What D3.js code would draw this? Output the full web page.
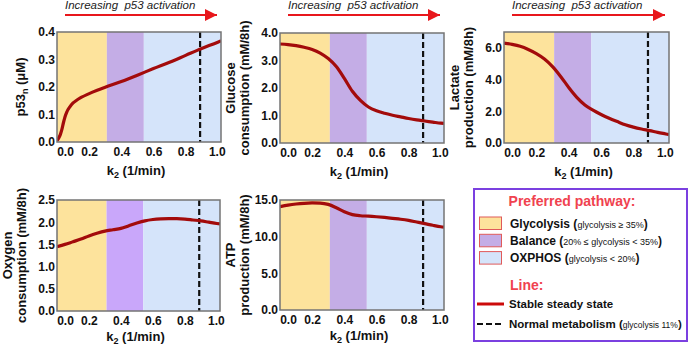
<!DOCTYPE html>
<html>
<head>
<meta charset="utf-8">
<script src="https://cdn.jsdelivr.net/npm/d3@7"></script>
<style>
  body { margin: 0; background: #fff; }
  svg { font-family: "Liberation Sans", Arial, sans-serif; display: block; }
</style>
</head>
<body>
<div id="chart"></div>
<script>
// k2 grid shared by most panels (1/min)
const k2Grid = [0, 0.05, 0.1, 0.15, 0.2, 0.25, 0.3, 0.35, 0.4, 0.45, 0.5, 0.55, 0.6, 0.65, 0.7, 0.75, 0.8, 0.85, 0.9, 0.95, 1.0, 1.02];

// p53 needs a finer grid near zero
const p53K2 = [0, 0.01, 0.02, 0.03, 0.04, 0.05, 0.06, 0.08, 0.1, 0.12, 0.15, 0.2, 0.25, 0.3, 0.4, 0.5, 0.6, 0.7, 0.8, 0.9, 1.0, 1.02];
const p53Values = [0.005, 0.014, 0.026, 0.045, 0.07, 0.092, 0.108, 0.128, 0.142, 0.151, 0.162, 0.176, 0.188, 0.199, 0.22, 0.243, 0.267, 0.29, 0.315, 0.34, 0.363, 0.368];

const glucoseValues = [3.6, 3.58, 3.54, 3.48, 3.4, 3.27, 3.07, 2.78, 2.35, 1.88, 1.55, 1.31, 1.17, 1.08, 1.01, 0.95, 0.89, 0.84, 0.8, 0.76, 0.72, 0.71];
const lactateValues = [6.3, 6.22, 6.1, 5.9, 5.64, 5.3, 4.82, 4.2, 3.5, 2.88, 2.4, 2.07, 1.8, 1.56, 1.35, 1.15, 1.0, 0.88, 0.78, 0.67, 0.57, 0.53];
const oxygenValues = [1.45, 1.5, 1.56, 1.62, 1.69, 1.75, 1.8, 1.83, 1.86, 1.92, 1.98, 2.03, 2.06, 2.075, 2.08, 2.08, 2.07, 2.05, 2.03, 2.0, 1.97, 1.96];
const atpValues = [14.1, 14.3, 14.45, 14.55, 14.6, 14.58, 14.4, 13.95, 13.4, 13.0, 12.85, 12.8, 12.72, 12.62, 12.5, 12.38, 12.22, 12.0, 11.78, 11.55, 11.35, 11.3];

// pathway regions along k2
const regionBreaks = [0, 0.31, 0.54, 1.02];
const normalK2 = 0.89;

const xTicks = [0, 0.2, 0.4, 0.6, 0.8, 1.0];

const panels = [
  { x: 57, y: 32, w: 164, h: 110, k: p53K2, v: p53Values, max: 0.4, ticks: [0, 0.1, 0.2, 0.3, 0.4],
    label: ['p53n'], arrow: true, purple: '#c4ade6' },
  { x: 280, y: 33, w: 164, h: 110, k: k2Grid, v: glucoseValues, max: 4, ticks: [0, 1, 2, 3, 4],
    label: ['Glucose', 'consumption (mM/8h)'], arrow: true, purple: '#c4ade6' },
  { x: 504, y: 32, w: 165, h: 111, k: k2Grid, v: lactateValues, max: 7, ticks: [0, 2, 4, 6],
    label: ['Lactate', 'production (mM/8h)'], arrow: true, purple: '#c4ade6' },
  { x: 57, y: 200, w: 163, h: 111, k: k2Grid, v: oxygenValues, max: 2.5, ticks: [0, 0.5, 1, 1.5, 2, 2.5],
    label: ['Oxygen', 'consumption (mM/8h)'], arrow: false, purple: '#c9a7fa' },
  { x: 280, y: 200, w: 164, h: 110, k: k2Grid, v: atpValues, max: 15, ticks: [0, 5, 10, 15],
    label: ['ATP', 'production (mM/8h)'], arrow: false, purple: '#c4ade6' },
];

const regionColors = ['#fde39c', null, '#d5e4fa'];

const svg = d3.select('#chart').append('svg')
  .attr('width', 690)
  .attr('height', 345);

svg.append('defs').append('marker')
  .attr('id', 'head')
  .attr('viewBox', '0 0 10 10')
  .attr('refX', 10)
  .attr('refY', 5)
  .attr('markerUnits', 'userSpaceOnUse')
  .attr('markerWidth', 13)
  .attr('markerHeight', 12)
  .attr('orient', 'auto')
  .append('path')
  .attr('d', 'M0,0L10,5L0,10Z')
  .attr('fill', '#e8171c');

panels.forEach((p, i) => {
  const g = svg.append('g').attr('transform', `translate(${p.x},${p.y})`);
  const x = d3.scaleLinear().domain([0, 1.02]).range([0, p.w]);
  const y = d3.scaleLinear().domain([0, p.max]).range([p.h, 0]);

  // coloured pathway bands
  const colors = [regionColors[0], p.purple, regionColors[2]];
  g.selectAll('rect.band')
    .data(d3.range(3))
    .join('rect')
    .attr('class', 'band')
    .attr('x', (d) => x(regionBreaks[d]))
    .attr('y', 0)
    .attr('width', (d) => x(regionBreaks[d + 1]) - x(regionBreaks[d]))
    .attr('height', p.h)
    .attr('fill', (d) => colors[d]);

  // normal metabolism marker
  g.append('line')
    .attr('x1', x(normalK2)).attr('x2', x(normalK2))
    .attr('y1', 0).attr('y2', p.h)
    .attr('stroke', '#111')
    .attr('stroke-width', 2.2)
    .attr('stroke-dasharray', '6,3');

  const clipId = `clip${i}`;
  g.append('clipPath').attr('id', clipId)
    .append('rect').attr('width', p.w).attr('height', p.h);

  const line = d3.line()
    .x((d, j) => x(p.k[j]))
    .y((d) => y(d))
    .curve(d3.curveMonotoneX);

  g.append('path')
    .datum(p.v)
    .attr('clip-path', `url(#${clipId})`)
    .attr('fill', 'none')
    .attr('stroke', '#a30b0b')
    .attr('stroke-width', 3.2)
    .attr('d', line);

  g.append('rect')
    .attr('width', p.w).attr('height', p.h)
    .attr('fill', 'none')
    .attr('stroke', '#747474')
    .attr('stroke-width', 1.5);

  // axes (labels only)
  const yAxis = g.append('g')
    .call(d3.axisLeft(y).tickValues(p.ticks).tickSize(0).tickPadding(2)
      .tickFormat(d3.format('.1f')));
  yAxis.select('.domain').remove();
  yAxis.selectAll('text')
    .attr('font-size', 12)
    .attr('font-weight', 'bold')
    .attr('font-family', '"Liberation Sans", Arial, sans-serif')
    .attr('fill', '#111');

  const xAxis = g.append('g')
    .attr('transform', `translate(0,${p.h})`)
    .call(d3.axisBottom(x).tickValues(xTicks).tickSize(0).tickPadding(5)
      .tickFormat(d3.format('.1f')));
  xAxis.select('.domain').remove();
  // nudge end labels inward, as in the original figure
  xAxis.selectAll('text')
    .attr('font-size', 12)
    .attr('font-weight', 'bold')
    .attr('font-family', '"Liberation Sans", Arial, sans-serif')
    .attr('fill', '#111')
    .attr('dx', (d) => (d === 0 ? 8 : d === 1 ? -1 : 0));

  // x label k2 (1/min)
  const xl = g.append('text')
    .attr('x', p.w / 2 - 3)
    .attr('y', p.h + (i < 3 ? 33 : 30))
    .attr('text-anchor', 'middle')
    .attr('font-size', 13)
    .attr('font-weight', 'bold')
    .attr('fill', '#111');
  xl.append('tspan').text('k');
  xl.append('tspan').attr('font-size', 9).attr('dy', 3).text('2');
  xl.append('tspan').attr('dy', -3).text(' (1/min)');

  // y label
  if (p.label.length === 1) {
    const yl = g.append('text')
      .attr('transform', `translate(-32,${p.h / 2}) rotate(-90)`)
      .attr('text-anchor', 'middle')
      .attr('font-size', 13)
      .attr('font-weight', 'bold')
      .attr('fill', '#111');
    yl.append('tspan').text('p53');
    yl.append('tspan').attr('font-size', 9).attr('dy', 3).text('n');
    yl.append('tspan').attr('dy', -3).text(' (μM)');
  } else {
    p.label.forEach((t, j) => {
      g.append('text')
        .attr('transform', `translate(${j === 0 ? -45 : -31},${p.h / 2}) rotate(-90)`)
        .attr('text-anchor', 'middle')
        .attr('font-size', 13)
        .attr('font-weight', 'bold')
        .attr('fill', '#111')
        .text(t);
    });
  }

  // p53 activation arrow above top-row panels
  if (p.arrow) {
    const a = svg.append('g').attr('transform', `translate(${p.x + 8},0)`);
    a.append('text')
      .attr('x', 0).attr('y', 9)
      .attr('font-size', 11.5)
      .attr('font-style', 'italic')
      .attr('fill', '#222')
      .attr('xml:space', 'preserve')
      .text('Increasing  p53 activation');
    a.append('line')
      .attr('x1', 0).attr('x2', p.w - 12)
      .attr('y1', 15).attr('y2', 15)
      .attr('stroke', '#e8171c')
      .attr('stroke-width', 2)
      .attr('marker-end', 'url(#head)');
  }
});

// legend
const legendRows = [
  { name: 'Glycolysis', note: 'glycolysis ≥ 35%', color: '#fde39c' },
  { name: 'Balance', note: '20% ≤ glycolysis < 35%', color: '#c4ade6' },
  { name: 'OXPHOS', note: 'glycolysis < 20%', color: '#d5e4fa' },
];

const lg = svg.append('g');
lg.append('rect')
  .attr('x', 474).attr('y', 189)
  .attr('width', 213).attr('height', 152)
  .attr('fill', '#fff')
  .attr('stroke', '#7b40e0')
  .attr('stroke-width', 2);

lg.append('text')
  .attr('x', 572).attr('y', 206)
  .attr('text-anchor', 'middle')
  .attr('font-size', 14)
  .attr('font-weight', 'bold')
  .attr('fill', '#f0424f')
  .text('Preferred pathway:');

legendRows.forEach((r, i) => {
  const yy = 217 + i * 17.3;
  lg.append('rect')
    .attr('x', 479.5).attr('y', yy)
    .attr('width', 22).attr('height', 12.5)
    .attr('fill', r.color)
    .attr('stroke', '#e05a5a')
    .attr('stroke-width', 1);
  const t = lg.append('text')
    .attr('x', 510).attr('y', yy + 10.5)
    .attr('font-size', 12)
    .attr('font-weight', 'bold')
    .attr('fill', '#111');
  t.append('tspan').text(`${r.name} (`);
  t.append('tspan').attr('font-size', 9).attr('font-weight', 'normal').text(r.note);
  t.append('tspan').text(')');
});

lg.append('text')
  .attr('x', 510).attr('y', 290)
  .attr('font-size', 14)
  .attr('font-weight', 'bold')
  .attr('fill', '#f0424f')
  .text('Line:');

lg.append('line')
  .attr('x1', 477).attr('x2', 504)
  .attr('y1', 304).attr('y2', 304)
  .attr('stroke', '#cc0a0a')
  .attr('stroke-width', 3);
lg.append('text')
  .attr('x', 509).attr('y', 308)
  .attr('font-size', 11.5)
  .attr('font-weight', 'bold')
  .attr('fill', '#111')
  .text('Stable steady state');

lg.append('line')
  .attr('x1', 477).attr('x2', 504)
  .attr('y1', 324).attr('y2', 324)
  .attr('stroke', '#111')
  .attr('stroke-width', 2.2)
  .attr('stroke-dasharray', '6,3');
const nt = lg.append('text')
  .attr('x', 509).attr('y', 328)
  .attr('font-size', 11.5)
  .attr('font-weight', 'bold')
  .attr('fill', '#111');
nt.append('tspan').text('Normal metabolism (');
nt.append('tspan').attr('font-size', 8.5).attr('font-weight', 'normal').text('glycolysis 11%');
nt.append('tspan').text(')');
</script>
</body>
</html>
